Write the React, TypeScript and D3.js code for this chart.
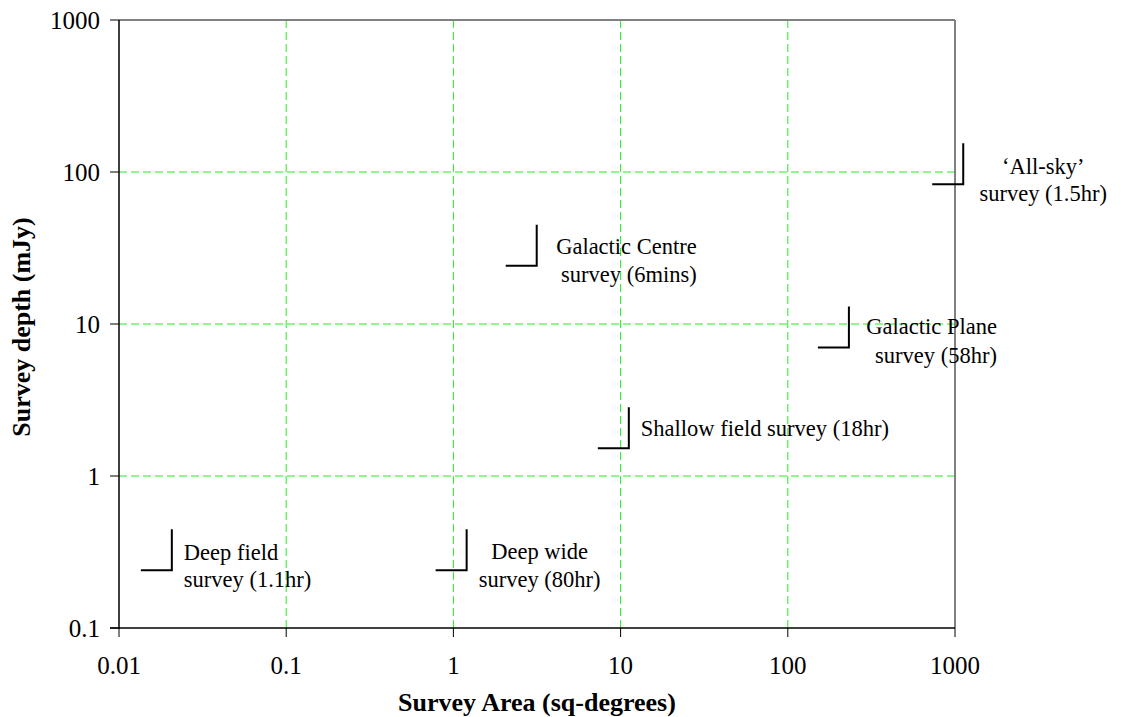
import * as d3 from 'd3';
import React from 'react';

// survey markers: corner of each marker at (area, depth)
const surveyNames = ['Deep field', 'Deep wide', 'Galactic Centre', 'Shallow field', 'Galactic Plane', 'All-sky'];
const surveyArea = [0.0207, 1.2, 3.15, 11.2, 232, 1120];
const surveyDepth = [0.24, 0.24, 24.2, 1.52, 7.0, 83];
const surveyLabels = [
  ['Deep field', 'survey (1.1hr)'],
  ['Deep wide', 'survey (80hr)'],
  ['Galactic Centre', 'survey (6mins)'],
  ['Shallow field survey (18hr)'],
  ['Galactic Plane', 'survey (58hr)'],
  ['\u2018All-sky\u2019', 'survey (1.5hr)']
];

const xTicks = [0.01, 0.1, 1, 10, 100, 1000];
const xTickLabels = ['0.01', '0.1', '1', '10', '100', '1000'];
const yTicks = [0.1, 1, 10, 100, 1000];
const yTickLabels = ['0.1', '1', '10', '100', '1000'];

// label placement next to each marker
const labelLayout: Record<string, { anchor: string; dx: number; dy: number; lh: number }> = {
  'Deep field': { anchor: 'start', dx: 12, dy: -10, lh: 27 },
  'Deep wide': { anchor: 'middle', dx: 73, dy: -11, lh: 28 },
  'Galactic Centre': { anchor: 'end', dx: 160, dy: -12, lh: 28 },
  'Shallow field': { anchor: 'start', dx: 12, dy: -12, lh: 28 },
  'Galactic Plane': { anchor: 'end', dx: 148, dy: -14, lh: 29 },
  'All-sky': { anchor: 'middle', dx: 80, dy: -10, lh: 27 }
};

const font = '"Liberation Serif", "Times New Roman", serif';

export default function App() {
  const width = 1121;
  const height = 717;
  const left = 119, right = 955, top = 20, bottom = 628;

  const x = d3.scaleLog().domain([0.01, 1000]).range([left, right]);
  const y = d3.scaleLog().domain([0.1, 1000]).range([bottom, top]);

  const grid = '#22ee22';

  return (
    <svg width={width} height={height} style={{ position: 'absolute', left: 0, top: 0, background: '#fff' }}
      fontFamily={font}>
      {/* gridlines */}
      {xTicks.slice(1, -1).map(t => (
        <line key={'gx' + t} x1={x(t)} x2={x(t)} y1={top} y2={bottom}
          stroke={grid} strokeWidth={1} strokeDasharray="8,4" />
      ))}
      {yTicks.slice(1, -1).map(t => (
        <line key={'gy' + t} x1={left} x2={right} y1={y(t)} y2={y(t)}
          stroke={grid} strokeWidth={1} strokeDasharray="8,4" />
      ))}

      {/* frame */}
      <line x1={left} x2={right} y1={top} y2={top} stroke="#808080" strokeWidth={2} />
      <line x1={right} x2={right} y1={top} y2={bottom} stroke="#808080" strokeWidth={2} />
      <line x1={left} x2={left} y1={top} y2={bottom + 1} stroke="#000" strokeWidth={1.5} />
      <line x1={left - 9} x2={right} y1={bottom} y2={bottom} stroke="#000" strokeWidth={1.5} />

      {/* y axis ticks */}
      {yTicks.map((t, i) => (
        <g key={'yt' + t}>
          <line x1={left - 9} x2={left} y1={y(t)} y2={y(t)} stroke="#000" strokeWidth={1} />
          <text x={100} y={y(t) + 8.5} textAnchor="end" fontSize={25} fill="#000">{yTickLabels[i]}</text>
        </g>
      ))}

      {/* x axis ticks */}
      {xTicks.map((t, i) => (
        <g key={'xt' + t}>
          <line x1={x(t)} x2={x(t)} y1={bottom} y2={bottom + 9} stroke="#000" strokeWidth={1} />
          <text x={x(t)} y={674} textAnchor="middle" fontSize={25} fill="#000">{xTickLabels[i]}</text>
        </g>
      ))}

      {/* markers */}
      {surveyNames.map((name, i) => {
        const cx = x(surveyArea[i]);
        const cy = y(surveyDepth[i]);
        const lay = labelLayout[name];
        return (
          <g key={name}>
            <path d={`M${cx - 31},${cy}H${cx}V${cy - 41}`} fill="none" stroke="#000" strokeWidth={2} />
            <text textAnchor={lay.anchor} fontSize={22.5} fill="#000">
              {surveyLabels[i].map((line, j) => (
                <tspan key={j} x={cx + lay.dx} y={cy + lay.dy + j * lay.lh}>{line}</tspan>
              ))}
            </text>
          </g>
        );
      })}

      {/* axis titles */}
      <text x={(left + right) / 2} y={711} textAnchor="middle" fontSize={26} fontWeight="bold" fill="#000">
        Survey Area (sq-degrees)
      </text>
      <text transform={`translate(30,${(top + bottom) / 2 + 3}) rotate(-90)`} textAnchor="middle"
        fontSize={26} fontWeight="bold" fill="#000">
        Survey depth (mJy)
      </text>
    </svg>
  );
}
